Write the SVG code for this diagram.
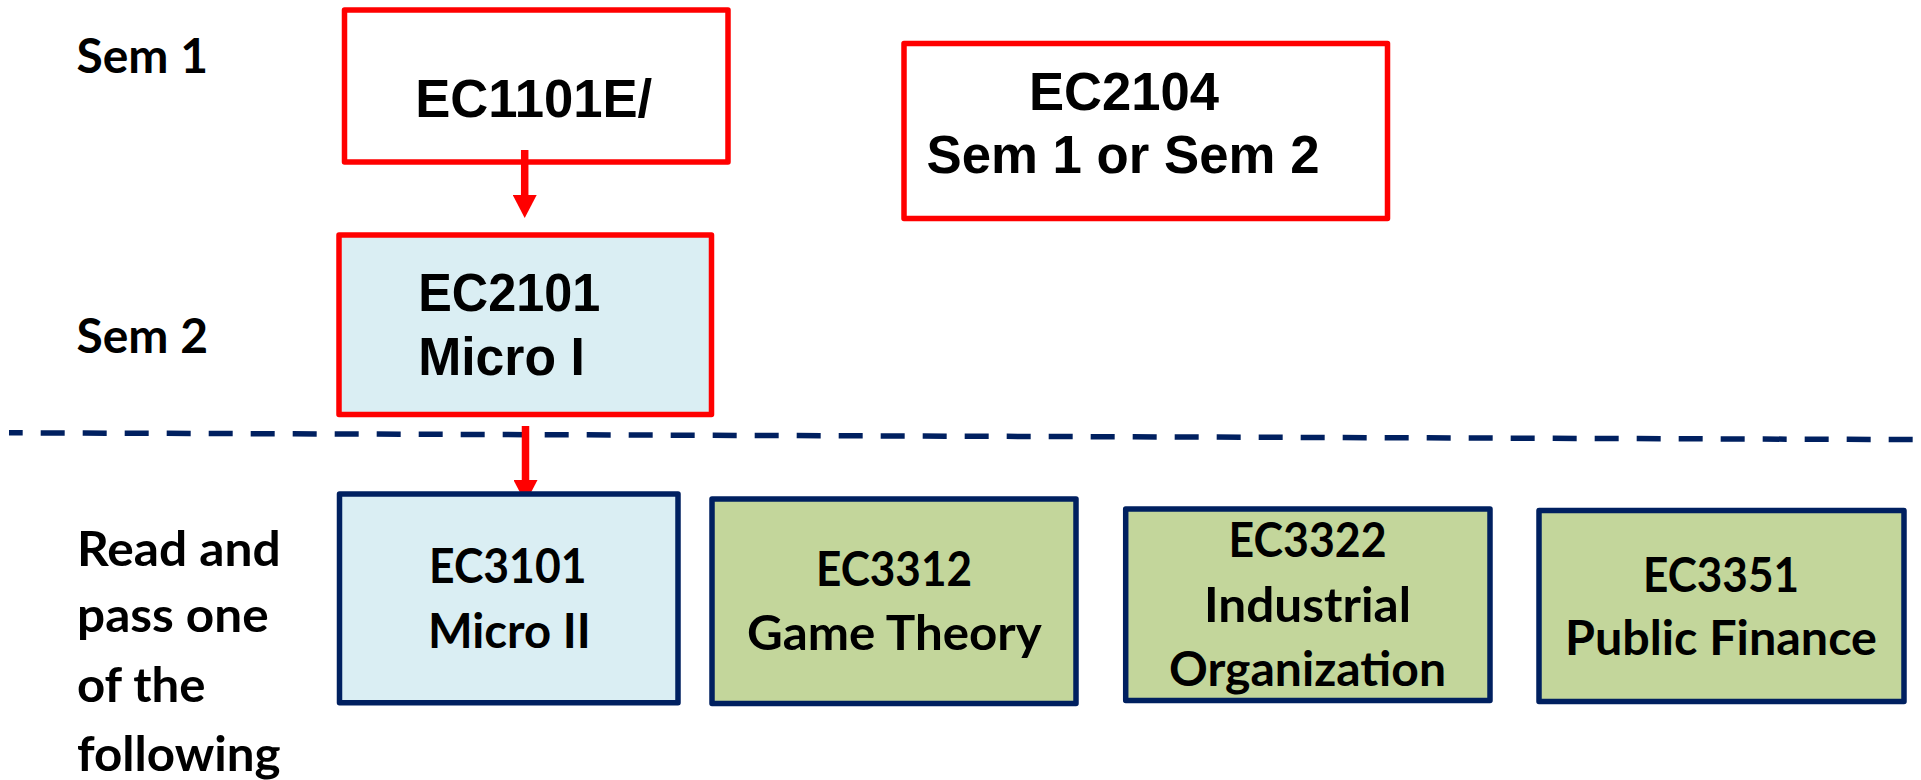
<svg xmlns="http://www.w3.org/2000/svg" width="1921" height="780" viewBox="0 0 1921 780">
<style>
.bg{fill:#ffffff}
.red{fill:none;stroke:#FF0000;stroke-width:5.5;stroke-linejoin:round}
.redblue{fill:#DAEEF3;stroke:#FF0000;stroke-width:5.5;stroke-linejoin:round}
.navyblue{fill:#DAEEF3;stroke:#002060;stroke-width:5.5;stroke-linejoin:round}
.navygreen{fill:#C3D69B;stroke:#002060;stroke-width:5.5;stroke-linejoin:round}
.arial{font-family:"Liberation Sans",Arial,sans-serif;font-weight:bold;font-size:53px;fill:#000}
.cal{font-family:Lato,"Liberation Sans",sans-serif;font-weight:bold;font-size:47px;fill:#000}
.conn{stroke:#FF0000;stroke-width:7.5;fill:none;marker-end:url(#ah)}
.sep{stroke:#002060;stroke-width:5.5;stroke-dasharray:24 18;stroke-dashoffset:10.3;fill:none}
</style>
<defs>
<marker id="ah" markerUnits="userSpaceOnUse" viewBox="0 -12 23 24" refX="0" refY="0" markerWidth="23" markerHeight="24" orient="auto">
<path d="M0,-12 L23,0 L0,12 Z" fill="#FF0000"/>
</marker>
</defs>
<rect class="bg" x="0" y="0" width="1921" height="780"/>

<g id="labels">
<text class="cal" x="76.5" y="72.7" textLength="131.5" lengthAdjust="spacingAndGlyphs">Sem 1</text>
<text class="cal" x="76.5" y="352.7" textLength="131.5" lengthAdjust="spacingAndGlyphs">Sem 2</text>
<text class="cal" x="77" y="565.7" textLength="203.6" lengthAdjust="spacingAndGlyphs">Read and</text>
<text class="cal" x="77" y="632.3" textLength="191.7" lengthAdjust="spacingAndGlyphs">pass one</text>
<text class="cal" x="77" y="702.3" textLength="128.5" lengthAdjust="spacingAndGlyphs">of the</text>
<text class="cal" x="77" y="770.7" textLength="203.6" lengthAdjust="spacingAndGlyphs">following</text>
</g>

<g id="separator">
<line class="sep" x1="9" y1="432.8" x2="1913" y2="439.6"/>
</g>

<g id="connectors">
<line class="conn" x1="524.7" y1="150" x2="524.7" y2="195"/>
<line class="conn" x1="525.5" y1="426" x2="525.5" y2="480"/>
</g>

<g id="ec1101e">
<rect class="red" x="344.5" y="10" width="383.5" height="152"/>
<text class="arial" x="415.2" y="116.7" textLength="237" lengthAdjust="spacingAndGlyphs">EC1101E/</text>
</g>

<g id="ec2104">
<rect class="red" x="904" y="43.5" width="483.5" height="175"/>
<text class="arial" x="1029" y="109.5" textLength="190" lengthAdjust="spacingAndGlyphs">EC2104</text>
<text class="arial" x="926.5" y="173.1" textLength="393" lengthAdjust="spacingAndGlyphs">Sem 1 or Sem 2</text>
</g>

<g id="ec2101">
<rect class="redblue" x="339" y="235" width="372.5" height="179.5"/>
<text class="arial" x="418.2" y="311" textLength="182" lengthAdjust="spacingAndGlyphs">EC2101</text>
<text class="arial" x="418.2" y="375" textLength="166.6" lengthAdjust="spacingAndGlyphs">Micro I</text>
</g>

<g id="ec3101">
<rect class="navyblue" x="339.5" y="494" width="338.5" height="208.8"/>
<text class="cal" x="429" y="583.3" textLength="157.5" lengthAdjust="spacingAndGlyphs">EC3101</text>
<text class="cal" x="428" y="647.7" textLength="162.7" lengthAdjust="spacingAndGlyphs">Micro II</text>
</g>

<g id="ec3312">
<rect class="navygreen" x="712" y="499" width="364" height="204.5"/>
<text class="cal" x="816" y="585.7" textLength="156" lengthAdjust="spacingAndGlyphs">EC3312</text>
<text class="cal" x="747" y="650" textLength="294.7" lengthAdjust="spacingAndGlyphs">Game Theory</text>
</g>

<g id="ec3322">
<rect class="navygreen" x="1125.7" y="509" width="364.3" height="191.5"/>
<text class="cal" x="1228.6" y="557" textLength="158" lengthAdjust="spacingAndGlyphs">EC3322</text>
<text class="cal" x="1204" y="622" textLength="207" lengthAdjust="spacingAndGlyphs">Industrial</text>
<text class="cal" x="1169" y="685.6" textLength="277" lengthAdjust="spacingAndGlyphs">Organization</text>
</g>

<g id="ec3351">
<rect class="navygreen" x="1539" y="510.5" width="365" height="191"/>
<text class="cal" x="1643" y="591.7" textLength="156" lengthAdjust="spacingAndGlyphs">EC3351</text>
<text class="cal" x="1565" y="655" textLength="312" lengthAdjust="spacingAndGlyphs">Public Finance</text>
</g>
</svg>
